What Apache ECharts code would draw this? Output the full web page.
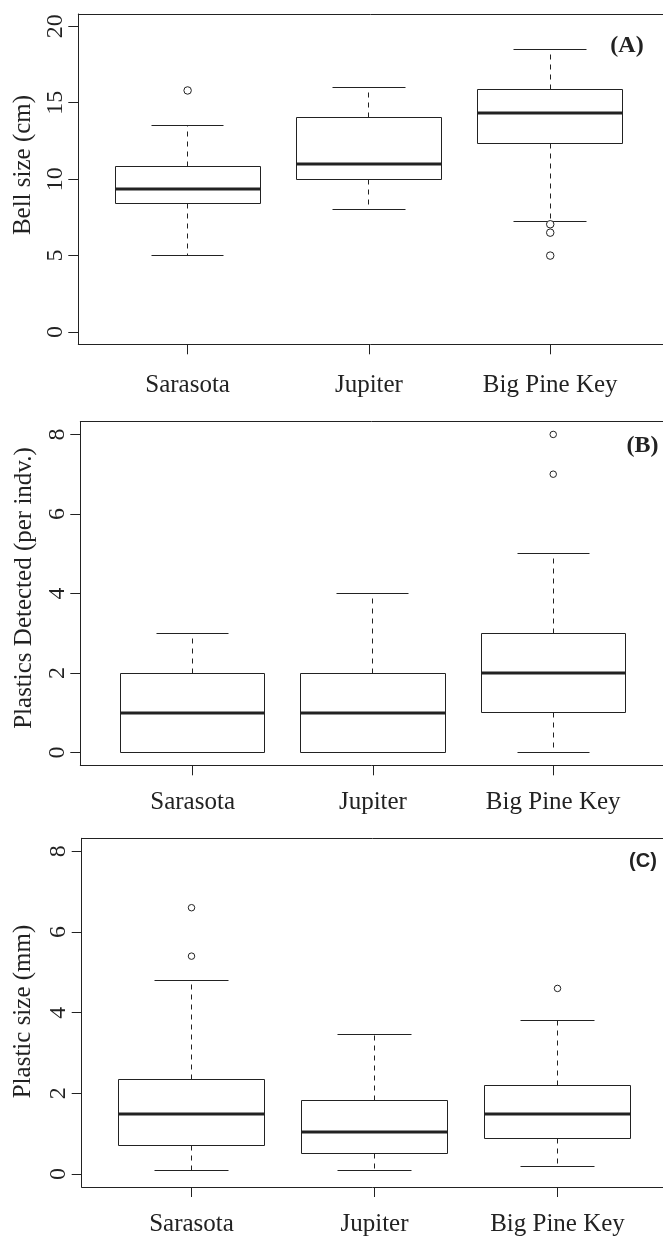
<!DOCTYPE html>
<html>
<head>
<meta charset="utf-8">
<script src="https://cdn.jsdelivr.net/npm/echarts@6/dist/echarts.min.js"></script>
<style>
html,body{margin:0;padding:0;background:#fff;overflow:hidden;}
#chart{width:663px;height:1237px;}
</style>
</head>
<body>
<div id="chart"></div>
<script>
// ---- data ----
const categories = ['Sarasota', 'Jupiter', 'Big Pine Key'];
// [lower whisker, Q1, median, Q3, upper whisker]
const bellStats = [
  [5.0, 8.4, 9.35, 10.8, 13.5],
  [8.0, 10.0, 11.0, 14.0, 16.0],
  [7.25, 12.35, 14.3, 15.85, 18.5]
];
const bellOutliers = [[15.8], [], [7.05, 6.5, 5.0]];
const countStats = [
  [0, 0, 1, 2, 3],
  [0, 0, 1, 2, 4],
  [0, 1, 2, 3, 5]
];
const countOutliers = [[], [], [7, 8]];
const sizeStats = [
  [0.1, 0.7, 1.5, 2.34, 4.8],
  [0.08, 0.5, 1.05, 1.82, 3.47],
  [0.2, 0.88, 1.5, 2.2, 3.8]
];
const sizeOutliers = [[6.6, 5.4], [], [4.6]];
const bellTicks = [0, 5, 10, 15, 20];
const countTicks = [0, 2, 4, 6, 8];
const sizeTicks = [0, 2, 4, 6, 8];
const catTicks = [1, 2, 3];
const yTitles = ['Bell size (cm)', 'Plastics Detected (per indv.)', 'Plastic size (mm)'];
const panelLabels = ['(A)', '(B)', '(C)'];

// ---- layout ----
const INK = '#222';
const SERIF = '"Liberation Serif", "Times New Roman", serif';
const panels = [
  {left: 78.3, top: 14, height: 330.3, xmin: 0.397, spacing: 181.3, ymin: -0.8, ymax: 20.8,
   stats: bellStats, out: bellOutliers, ticks: bellTicks, labMargin: 29, r: 7.5,
   titleY: 165, titleX: 23},
  {left: 80.3, top: 421.7, height: 343.6, xmin: 0.377, spacing: 180.3, ymin: -0.32, ymax: 8.32,
   stats: countStats, out: countOutliers, ticks: countTicks, labMargin: 25, r: 6.5,
   titleY: 588, titleX: 24},
  {left: 81.7, top: 838.3, height: 348.7, xmin: 0.4, spacing: 183, ymin: -0.32, ymax: 8.32,
   stats: sizeStats, out: sizeOutliers, ticks: sizeTicks, labMargin: 25, r: 6.5,
   titleY: 1011.5, titleX: 23}
];
const GRID_RIGHT = 663; // frame is cut off at the right edge of the picture

function crisp(v) { return Math.round(v - 0.5) + 0.5; }

function renderBox(params, api) {
  const x = api.value(0);
  const lo = api.value(1), q1 = api.value(2), med = api.value(3), q3 = api.value(4), hi = api.value(5);
  const pLo = api.coord([x, lo]), pQ1 = api.coord([x, q1]), pMed = api.coord([x, med]);
  const pQ3 = api.coord([x, q3]), pHi = api.coord([x, hi]);
  const bl = crisp(api.coord([x - 0.4, med])[0]);
  const br = crisp(api.coord([x + 0.4, med])[0]);
  const cl = crisp(api.coord([x - 0.2, med])[0]);
  const cr = crisp(api.coord([x + 0.2, med])[0]);
  const cx = crisp(pMed[0]);
  const yQ1 = crisp(pQ1[1]), yQ3 = crisp(pQ3[1]), yLo = crisp(pLo[1]), yHi = crisp(pHi[1]);
  const thin = {stroke: INK, lineWidth: 1, fill: null};
  const dashed = {stroke: INK, lineWidth: 1, lineDash: [5, 5]};
  const children = [];
  if (yHi < yQ3 - 1) children.push({type: 'line', shape: {x1: cx, y1: yQ3, x2: cx, y2: yHi}, style: dashed});
  if (yLo > yQ1 + 1) children.push({type: 'line', shape: {x1: cx, y1: yQ1, x2: cx, y2: yLo}, style: dashed});
  children.push({type: 'line', shape: {x1: cl, y1: yHi, x2: cr, y2: yHi}, style: thin});
  children.push({type: 'line', shape: {x1: cl, y1: yLo, x2: cr, y2: yLo}, style: thin});
  children.push({type: 'rect', shape: {x: bl, y: yQ3, width: br - bl, height: yQ1 - yQ3}, style: {stroke: INK, lineWidth: 1, fill: '#fff'}});
  children.push({type: 'line', shape: {x1: bl, y1: Math.round(pMed[1]), x2: br, y2: Math.round(pMed[1])}, style: {stroke: INK, lineWidth: 3}});
  return {type: 'group', children: children};
}

const grid = [], xAxis = [], yAxis = [], series = [], graphic = [];
panels.forEach((p, i) => {
  const w = GRID_RIGHT - p.left;
  const xmax = p.xmin + w / p.spacing;
  grid.push({left: p.left, top: p.top, height: p.height, width: w, show: false});
  // bottom axis (index 2*i)
  xAxis.push({
    type: 'value', gridIndex: i, position: 'bottom', min: p.xmin, max: xmax,
    splitLine: {show: false},
    axisLine: {show: true, onZero: false, lineStyle: {color: INK, width: 1}},
    axisTick: {show: true, customValues: catTicks, length: 10, lineStyle: {color: INK, width: 1}},
    axisLabel: {show: true, customValues: catTicks, margin: p.labMargin, color: INK,
                fontFamily: SERIF, fontSize: 25,
                formatter: v => categories[Math.round(v) - 1] || ''}
  });
  // top frame line (index 2*i+1)
  xAxis.push({
    type: 'value', gridIndex: i, position: 'top', min: p.xmin, max: xmax,
    splitLine: {show: false},
    axisLine: {show: true, onZero: false, lineStyle: {color: INK, width: 1}},
    axisTick: {show: false}, axisLabel: {show: false}
  });
  yAxis.push({
    type: 'value', gridIndex: i, min: p.ymin, max: p.ymax,
    splitLine: {show: false},
    axisLine: {show: true, onZero: false, lineStyle: {color: INK, width: 1}},
    axisTick: {show: true, customValues: p.ticks, length: 10, lineStyle: {color: INK, width: 1}},
    axisLabel: {show: true, customValues: p.ticks, rotate: 90, margin: 11, color: INK,
                fontFamily: SERIF, fontSize: 24}
  });
  series.push({
    type: 'custom', xAxisIndex: 2 * i, yAxisIndex: i, silent: true,
    renderItem: renderBox,
    encode: {x: 0, y: [1, 2, 3, 4, 5]},
    data: p.stats.map((s, k) => [k + 1].concat(s))
  });
  const outData = [];
  p.out.forEach((arr, k) => arr.forEach(v => outData.push([k + 1, v])));
  series.push({
    type: 'scatter', xAxisIndex: 2 * i, yAxisIndex: i, silent: true,
    symbol: 'circle', symbolSize: p.r,
    itemStyle: {color: '#fff', borderColor: INK, borderWidth: 1, opacity: 1},
    data: outData, z: 3
  });
  graphic.push({
    type: 'text', x: p.titleX, y: p.titleY, rotation: Math.PI / 2,
    style: {text: yTitles[i], fill: INK, font: '25px ' + SERIF, align: 'center', verticalAlign: 'middle'}
  });
});
graphic.push({type: 'text', x: 627, y: 46, style: {text: panelLabels[0], fill: INK,
  font: 'bold 24px ' + SERIF, align: 'center', verticalAlign: 'middle'}});
graphic.push({type: 'text', x: 642.5, y: 446, style: {text: panelLabels[1], fill: INK,
  font: 'bold 24px ' + SERIF, align: 'center', verticalAlign: 'middle'}});
graphic.push({type: 'text', x: 643, y: 861.5, style: {text: panelLabels[2], fill: INK,
  font: 'bold 20px "Liberation Sans", Arial, sans-serif', align: 'center', verticalAlign: 'middle'}});

const chart = echarts.init(document.getElementById('chart'), null, {renderer: 'canvas'});
chart.setOption({
  animation: false,
  backgroundColor: '#fff',
  grid: grid, xAxis: xAxis, yAxis: yAxis, series: series, graphic: graphic
});
</script>
</body>
</html>
